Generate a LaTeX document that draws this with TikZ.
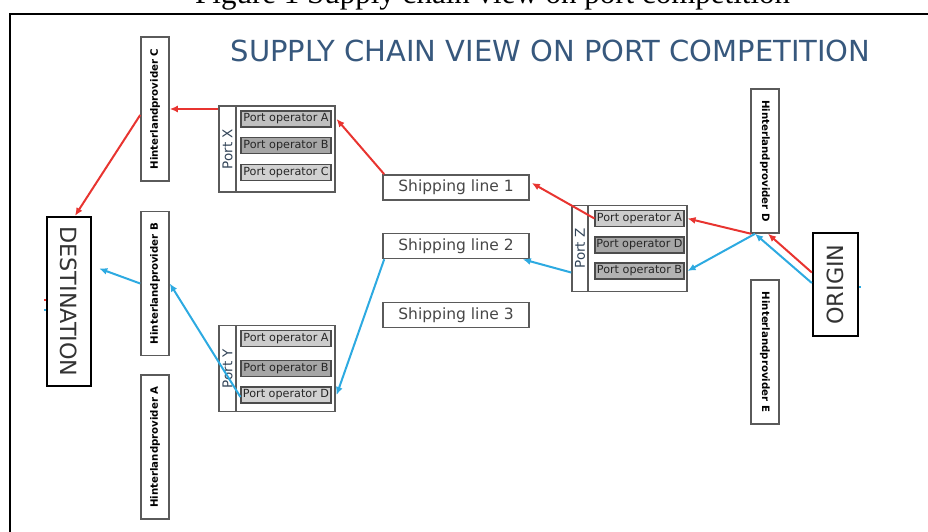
\documentclass[tikz,border=0pt]{standalone}
\usepackage{fontspec}
\setmainfont{Liberation Serif}
\newfontfamily\vfont{DejaVu Sans}
\usetikzlibrary{arrows.meta}

\definecolor{flowred}{RGB}{232,52,48}
\definecolor{flowblue}{RGB}{45,170,225}
\definecolor{titleblue}{RGB}{55,88,125}
\definecolor{boxgray}{RGB}{90,90,90}
\definecolor{labelslate}{RGB}{50,68,88}

\begin{document}
\begin{tikzpicture}[x=1pt,y=-1pt,
  box/.style={draw=boxgray,line width=1.6pt,inner sep=0pt},
  hbox/.style={box,minimum width=28pt,minimum height=144pt,text=black,
    font=\vfont\bfseries\fontsize{10.2}{10.2}\selectfont},
  endbox/.style={draw=black,line width=2.4pt,inner sep=0pt,text=black!80,
    font=\vfont\fontsize{22.3}{22.3}\selectfont},
  shipbox/.style={box,minimum width=146pt,minimum height=25pt,text=black!72,
    font=\vfont\fontsize{15.5}{15.5}\selectfont},
  portlabel/.style={box,minimum width=17pt,minimum height=86pt,text=labelslate,
    font=\vfont\fontsize{13.5}{13.5}\selectfont},
  opsbox/.style={box,minimum width=99pt,minimum height=86pt},
  opbox/.style={draw=black!70,line width=1.1pt,minimum width=90pt,minimum height=16pt,
    inner sep=0pt,text=black!85,font=\vfont\fontsize{11.2}{11.2}\selectfont},
  redflow/.style={draw=flowred,line width=2pt,-{Latex[length=8pt,width=7pt]}},
  blueflow/.style={draw=flowblue,line width=2pt,-{Latex[length=8pt,width=7pt]}},
  stub/.style={line width=1.6pt}
]
\clip (0,0) rectangle (928,532);

% caption above the frame, cut by the top edge
\node[anchor=base west,inner sep=0pt,font=\fontsize{31}{31}\selectfont] (caption)
  at (195,3.5) {Figure 1 Supply chain view on port competition};
\draw[line width=2pt] (10,532) -- (10,14) -- (928,14);

% title
\node[anchor=base,inner sep=0pt,text=titleblue,font=\vfont\fontsize{29}{29}\selectfont]
  (title) at (550.5,62) {SUPPLY CHAIN VIEW ON PORT COMPETITION};

% end points of the chain
\node[endbox,minimum width=44pt,minimum height=169pt] (dest) at (69,301.5)
  {\rotatebox{-90}{DESTINATION}};
\node[endbox,minimum width=45pt,minimum height=103pt] (origin) at (835.5,284.5)
  {\rotatebox{90}{ORIGIN}};

% hinterland providers
\node[hbox] (hC) at (155,109) {\rotatebox{90}{Hinterlandprovider C}};
\node[hbox] (hB) at (155,283.5) {\rotatebox{90}{Hinterlandprovider B}};
\node[hbox] (hA) at (155,447) {\rotatebox{90}{Hinterlandprovider A}};
\node[hbox] (hD) at (765,161) {\rotatebox{-90}{Hinterlandprovider D}};
\node[hbox] (hE) at (765,352) {\rotatebox{-90}{Hinterlandprovider E}};

% shipping lines
\node[shipbox] (ship1) at (456,187.5) {Shipping line 1};
\node[shipbox] (ship2) at (456,246) {Shipping line 2};
\node[shipbox] (ship3) at (456,315) {Shipping line 3};

% Port X
\node[portlabel] (xL) at (227.5,149) {\rotatebox{90}{Port X}};
\node[opsbox] (xOps) at (285.5,149) {};
\node[opbox,fill=black!25] (xA) at (286,119) {Port operator A};
\node[opbox,fill=black!35] (xB) at (286,145.5) {Port operator B};
\node[opbox,fill=black!18] (xC) at (286,172.5) {Port operator C};

% Port Y
\node[portlabel] (yL) at (227.5,368.5) {\rotatebox{90}{Port Y}};
\node[opsbox] (yOps) at (285.5,368.5) {};
\node[opbox,fill=black!20] (yA) at (286,338.5) {Port operator A};
\node[opbox,fill=black!35] (yB) at (286,368.5) {Port operator B};
\node[opbox,fill=black!18] (yD) at (286,395) {Port operator D};

% Port Z
\node[portlabel,minimum width=16pt] (zL) at (580,248.5) {\rotatebox{90}{Port Z}};
\node[opsbox] (zOps) at (637.5,248.5) {};
\node[opbox,fill=black!20,minimum width=89pt] (zA) at (639.5,218.5) {Port operator A};
\node[opbox,fill=black!35,minimum width=89pt] (zD) at (639.5,245) {Port operator D};
\node[opbox,fill=black!30,minimum width=89pt] (zB) at (639.5,271) {Port operator B};

% red chain
\draw[redflow] ([yshift=12pt]origin.west) -- ([xshift=3pt]hD.south);
\draw[redflow] ([xshift=1pt]hD.south west) -- ([xshift=3pt]zA.east);
\draw[redflow] (zA.west) -- ([xshift=2pt,yshift=4.5pt]ship1.east);
\draw[redflow] ([xshift=2pt]ship1.north west) -- ([xshift=5pt]xA.east);
\draw[redflow] ([yshift=40pt]xL.west) -- (hC.east);
\draw[redflow] ([yshift=-6pt]hC.west) -- ([xshift=6pt]dest.north);

% blue chain
\draw[blueflow] ([yshift=1.5pt]origin.west) -- ([xshift=-10pt]hD.south);
\draw[blueflow] ([xshift=-10pt]hD.south) -- ([xshift=3pt]zB.east);
\draw[blueflow] ([yshift=-24pt]zL.west) -- ([xshift=-7pt]ship2.south east);
\draw[blueflow] ([xshift=2pt]ship2.south west) -- ([xshift=5pt]yD.east);
\draw[blueflow] ([yshift=-2pt]yD.west) -- (hB.east);
\draw[blueflow] (hB.west) -- ([xshift=7pt,yshift=33pt]dest.east);

% short stubs at the box edges
\draw[stub,flowred] ([yshift=1.5pt]dest.west) -- ++(-2,0);
\draw[stub,flowblue] ([yshift=-8.5pt]dest.west) -- ++(-2,0);
\draw[stub,flowblue] ([yshift=-2.5pt]origin.east) -- ++(2,0);
\end{tikzpicture}
\end{document}
